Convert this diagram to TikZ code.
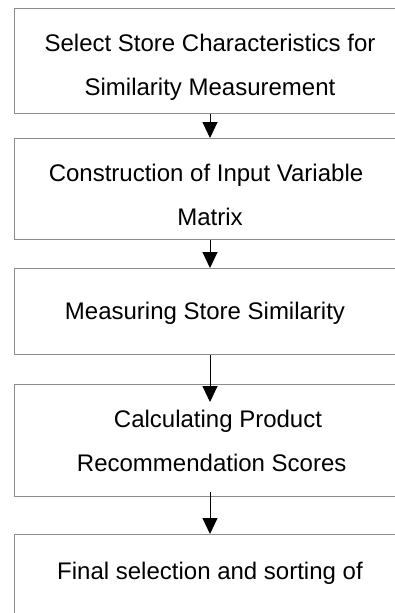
\documentclass[tikz,border=0pt]{standalone}
\usepackage{fontspec}
\setmainfont{Liberation Sans}
\usetikzlibrary{arrows.meta}
\definecolor{boxgray}{RGB}{140,140,140}
\tikzset{
  stepbox/.style={draw=boxgray, line width=1.3pt, minimum width=392pt, anchor=north west, inner sep=0pt, fill=none},
  lbl/.style={font=\fontsize{24}{28}\selectfont, anchor=base, inner sep=0pt, text=black},
  arr/.style={-{Triangle[length=16pt,width=15pt]}, line width=1pt, draw=black}
}
\begin{document}
\begin{tikzpicture}[x=1pt,y=-1pt]
\useasboundingbox (0,0) rectangle (395,613);
\coordinate (ax) at (210,0);
% boxes
\node[stepbox, minimum height=105pt] (b1) at (14,8) {};
\node[stepbox, minimum height=100.5pt] (b2) at (14,138) {};
\node[stepbox, minimum height=86pt] (b3) at (14,268) {};
\node[stepbox, minimum height=112pt] (b4) at (14,384) {};
\node[stepbox, minimum height=110pt] (b5) at (14,534) {};
% texts
\node[lbl] (t1a) at (210,51.7) {Select Store Characteristics for};
\node[lbl] (t1b) at (210,95.7) {Similarity Measurement};
\node[lbl] (t2a) at (206,181) {Construction of Input Variable};
\node[lbl] (t2b) at (210,225.7) {Matrix};
\node[lbl] (t3a) at (205,319.3) {Measuring Store Similarity};
\node[lbl] (t4a) at (218,427.7) {Calculating Product};
\node[lbl] (t4b) at (211.7,471.7) {Recommendation Scores};
\node[lbl] (t5a) at (210,579) {Final selection and sorting of};
% arrows
\draw[arr] (b1.south -| ax) -- (b2.north -| ax);
\draw[arr] (b2.south -| ax) -- (b3.north -| ax);
\draw[arr] (b3.south -| ax) -- ([yshift=-18pt]b4.north -| ax);
\draw[arr] ([yshift=5pt]b4.south -| ax) -- (b5.north -| ax);
\end{tikzpicture}
\end{document}
